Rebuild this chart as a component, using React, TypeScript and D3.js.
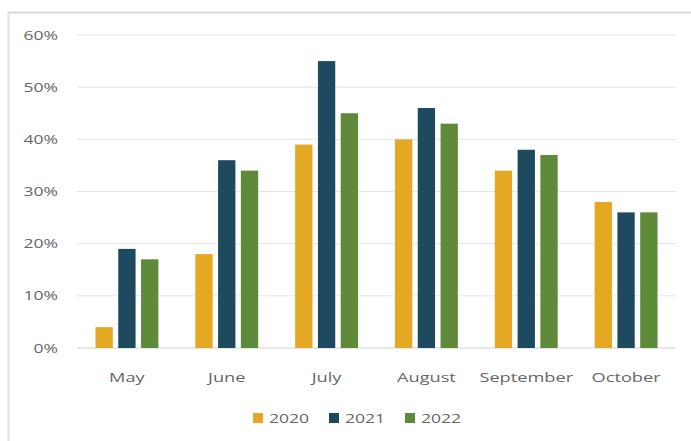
import React from "react";
import * as d3 from "d3";

const months = ["May", "June", "July", "August", "September", "October"];
const seriesNames = ["2020", "2021", "2022"];
const values2020 = [4, 18, 39, 40, 34, 28];
const values2021 = [19, 36, 55, 46, 38, 26];
const values2022 = [17, 34, 45, 43, 37, 26];
const yTicks = [0, 10, 20, 30, 40, 50, 60];
const colors = ["#E5A823", "#1D4A5E", "#5E8A3A"];

const W = 691;
const H = 441;
const left = 77;
const right = 676;
const top = 35;
const bottom = 348;
const SX = 1.35;

export default function App() {
  const series = [values2020, values2021, values2022];
  const x = d3.scaleBand<string>().domain(months).range([left, right]).paddingInner(0.37).paddingOuter(0.185);
  const xs = d3.scaleBand<string>().domain(seriesNames).range([0, x.bandwidth()]).paddingInner(0.24);
  const y = d3.scaleLinear().domain([0, 60]).range([bottom, top]);
  const font = "'Open Sans', 'Noto Sans', sans-serif";
  const textColor = "#666666";

  const legendX = [253, 329, 405];

  return (
    <svg width={W} height={H} style={{ position: "absolute", left: 0, top: 0 }}>
      <rect x={0} y={0} width={W} height={H} fill="#fff" />
      <line x1={8} x2={W} y1={12.5} y2={12.5} stroke="#d9d9d9" strokeWidth={2} />
      <line x1={8.5} x2={8.5} y1={12} y2={H} stroke="#e0e0e0" strokeWidth={2} />
      {yTicks.map((t) => (
        <g key={t}>
          <line x1={left} x2={right} y1={y(t)} y2={y(t)} stroke={t === 0 ? "#d0d0d0" : "#e4e4e4"} strokeWidth={1} />
          <text transform={`translate(58,${y(t)}) scale(${SX},1)`} dy="0.35em" textAnchor="end" fontFamily={font} fontSize={13} fill={textColor}>
            {t}%
          </text>
        </g>
      ))}
      {months.map((m, i) => (
        <g key={m}>
          {series.map((s, j) => (
            <rect
              key={j}
              x={(x(m) as number) + (xs(seriesNames[j]) as number)}
              y={y(s[i])}
              width={xs.bandwidth()}
              height={bottom - y(s[i])}
              fill={colors[j]}
            />
          ))}
          <text transform={`translate(${(x(m) as number) + x.bandwidth() / 2},377) scale(${SX},1)`} dy="0.35em" textAnchor="middle" fontFamily={font} fontSize={13.5} fill={textColor}>
            {m}
          </text>
        </g>
      ))}
      {seriesNames.map((n, j) => (
        <g key={n}>
          <rect x={legendX[j]} y={413} width={10} height={10} fill={colors[j]} />
          <text transform={`translate(${legendX[j] + 16},418) scale(${SX},1)`} dy="0.35em" fontFamily={font} fontSize={13} fill={textColor}>
            {n}
          </text>
        </g>
      ))}
    </svg>
  );
}
